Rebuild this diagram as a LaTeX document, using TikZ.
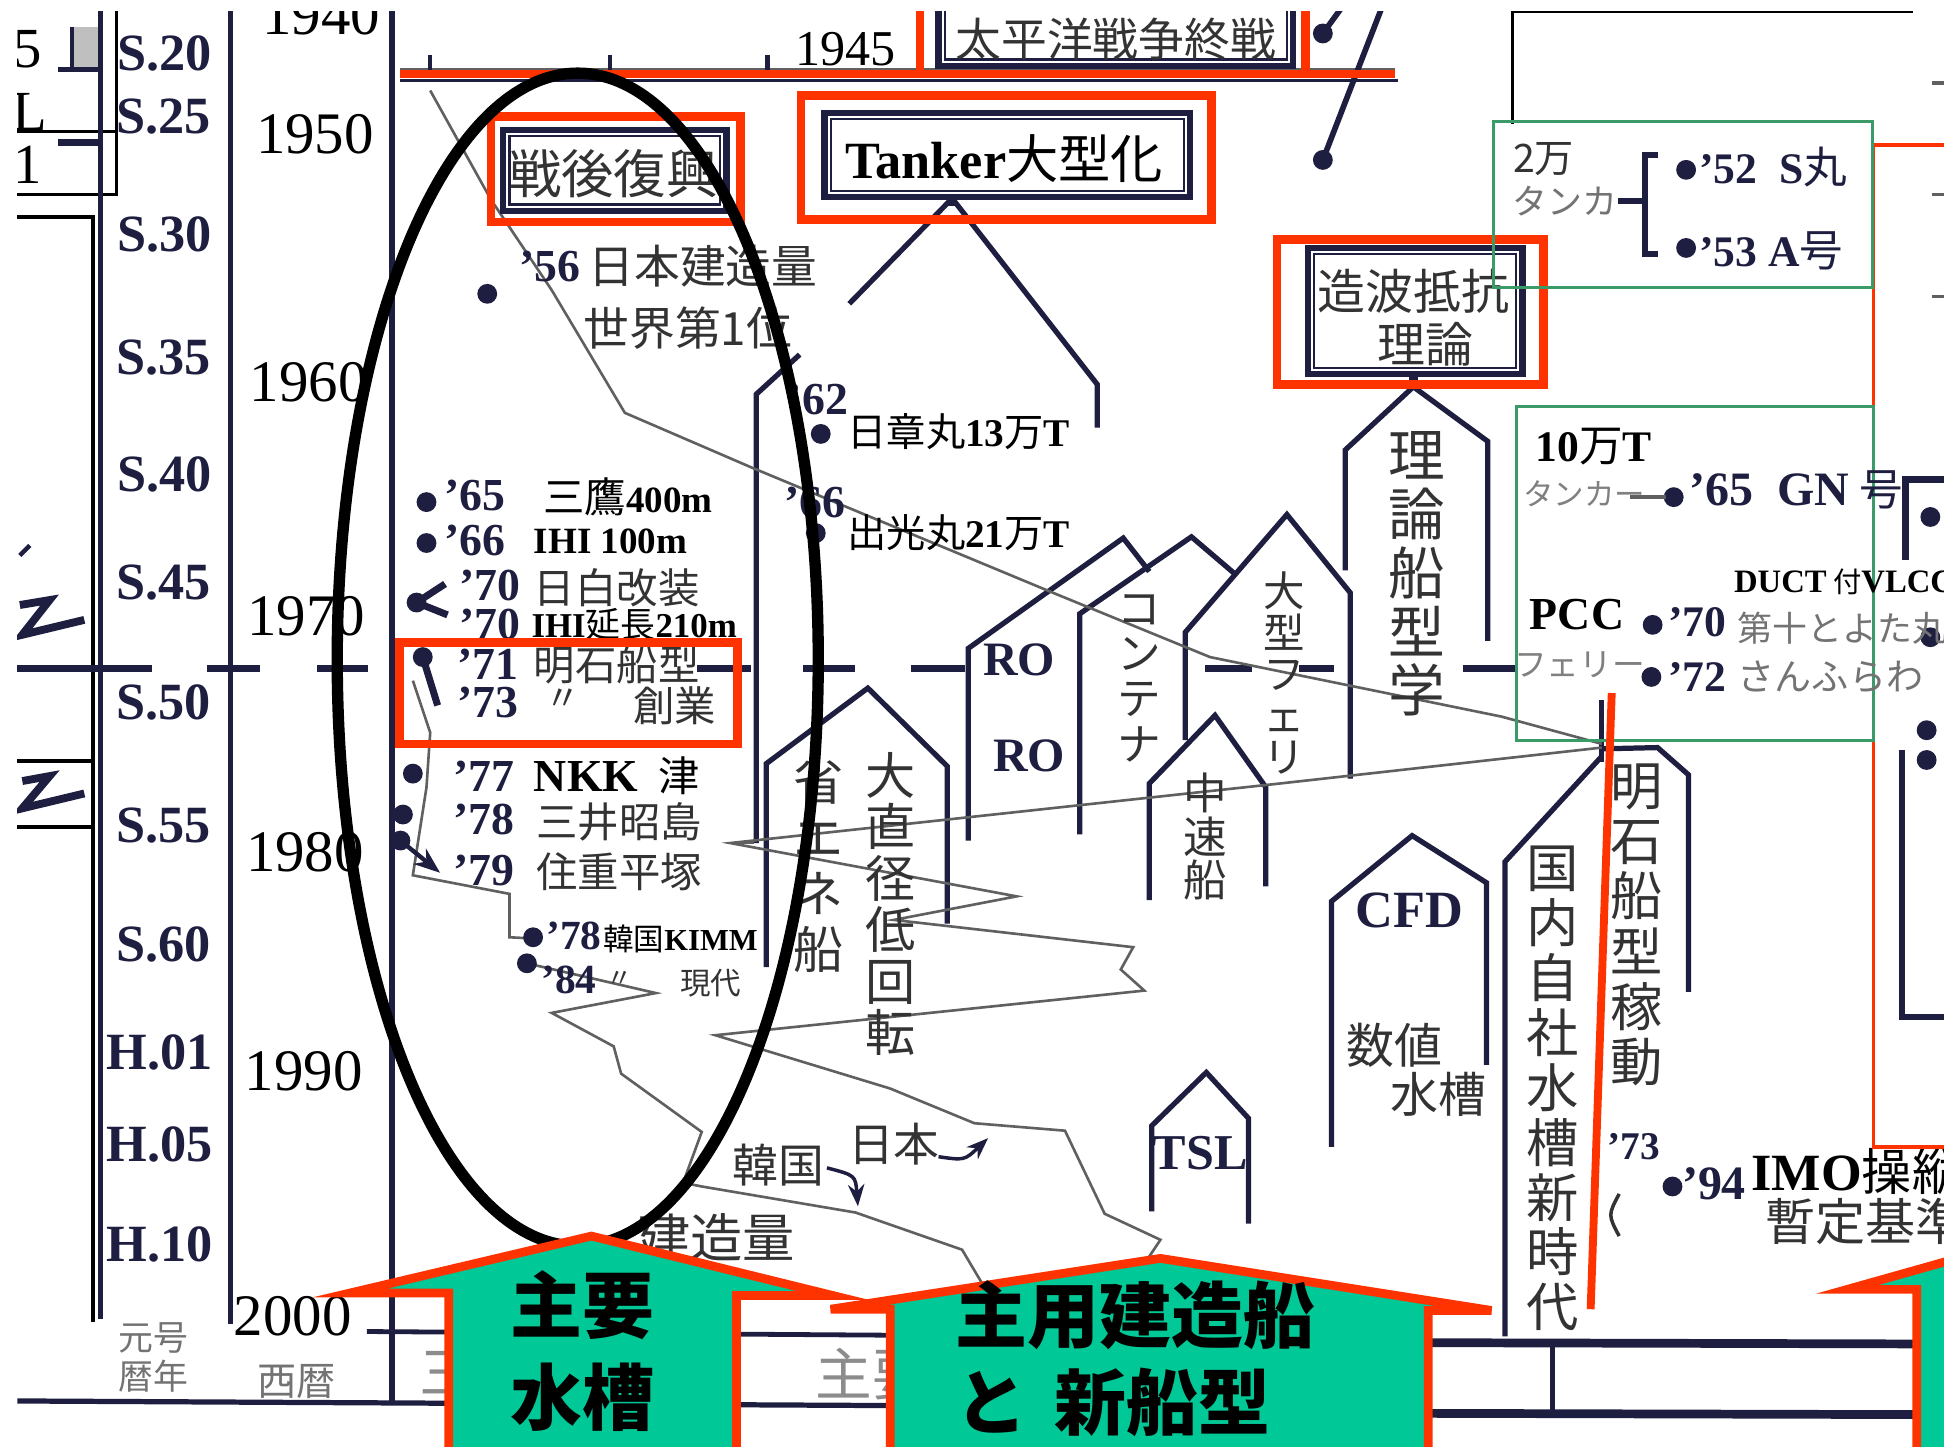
\documentclass[tikz,border=0pt]{standalone}
\usepackage{fontspec}
\setmainfont{Liberation Serif}
\newfontfamily\jp{Noto Sans CJK JP}
\usetikzlibrary{arrows.meta}
\definecolor{redf}{HTML}{FF3300}
\definecolor{tealf}{HTML}{00C896}
\definecolor{navy}{HTML}{1E1E40}
\definecolor{gline}{HTML}{606060}
\definecolor{gbox}{HTML}{3A9A68}
\definecolor{jtext}{HTML}{333333}
\newcommand{\myfs}[1]{\fontsize{#1}{#1}\selectfont}
\tikzset{
 wall/.style={navy, line width=1.2pt, line join=miter},
 thinl/.style={gline, line width=0.6pt},
 redframe/.style={redf, line width=2pt},
 txt/.style={inner sep=0pt, text=black},
 jt/.style={inner sep=0pt, text=jtext, font=\jp},
 sl/.style={inner sep=0pt, text=navy, font=\bfseries\myfs{12}},
 yr/.style={inner sep=0pt, text=black, font=\myfs{13.5}},
 num/.style={inner sep=0pt, anchor=west, text=navy, font=\bfseries\myfs{10.5}},
 vt/.style={inner sep=0pt, text=jtext, align=center},
 arrowshape/.style={fill=tealf, draw=redf, line width=2pt, line join=miter},
 atext/.style={inner sep=0pt, text=black, font=\jp\bfseries\myfs{16.5}},
}
\begin{document}
\begin{tikzpicture}[x=0.01cm,y=-0.01cm]
\useasboundingbox (0,0) rectangle (1568,1167);
\fill[white] (0,0) rectangle (1568,1167);

% ---------- left columns ----------
\draw[black,line width=0.8pt] (14,157)--(94,157)--(94,0);
\draw[black,line width=0.8pt] (14,106)--(94,106);
\fill[black!25] (58,22) rectangle (81,56);
\draw[navy,line width=1pt] (47,56)--(81,56) (58,22)--(58,56);
\draw[navy,line width=1.6pt] (47,115)--(81,115);
\node[txt,font=\myfs{13}] (p5) at (22,40) {5};
\node[txt,font=\myfs{13}] (pL) at (24,90) {L};
\node[txt,font=\myfs{13}] (p1) at (22,133) {1};
\draw[black,line width=0.8pt] (14,175)--(75,175)--(75,1066);
\draw[black,line width=0.8pt] (14,614)--(75,614) (14,667)--(75,667);
\draw[navy,line width=1.8pt] (16,488)--(40,484)--(18,512)--(68,500);
\draw[navy,line width=1.8pt] (18,630)--(40,626)--(18,652)--(68,640);
\draw[navy,line width=1pt] (16,448)--(24,440);
\draw[navy,line width=1.3pt] (81,0)--(81,1064);
\draw[navy,line width=1.3pt] (186,0)--(186,1068);
\draw[navy,line width=1.3pt] (316,0)--(316,1132);

\node[sl] (s20) at (133,43) {S.20};
\node[sl] (s25) at (132,94) {S.25};
\node[sl] (s30) at (133,189) {S.30};
\node[sl] (s35) at (132,288) {S.35};
\node[sl] (s40) at (133,383) {S.40};
\node[sl] (s45) at (132,470) {S.45};
\node[sl] (s50) at (132,567) {S.50};
\node[sl] (s55) at (132,666) {S.55};
\node[sl] (s60) at (132,762) {S.60};
\node[sl] (h01) at (129,849) {H.01};
\node[sl] (h05) at (129,923) {H.05};
\node[sl] (h10) at (129,1004) {H.10};

\node[yr] (y40) at (259,12) {1940};
\node[yr] (y50) at (254,108) {1950};
\node[yr] (y60) at (249,308) {1960};
\node[yr] (y70) at (247,497) {1970};
\node[yr] (y80) at (246,687) {1980};
\node[yr] (y90) at (245,864) {1990};
\node[yr] (y00) at (236,1062) {2000};
\node[jt,font=\jp\myfs{8},text=black!55] (gengo) at (124,1079) {元号};
\node[jt,font=\jp\myfs{8},text=black!55] (rekinen) at (124,1110) {暦年};
\node[jt,font=\jp\myfs{9},text=black!55] (seireki) at (239,1114) {西暦};

% dashed S.50 line
\foreach \a/\b in {14/123,167/210,256/297,562/606,648/690,735/778,972/1010,1048/1076,1180/1223}
  \draw[navy,line width=1.5pt] (\a,539)--(\b,539);

% bottom table
\draw[navy,line width=1.1pt] (296,1074)--(1150,1080);
\draw[navy,line width=2pt] (1150,1083)--(1544,1084);
\draw[navy,line width=1.2pt] (14,1130)--(1150,1136);
\draw[navy,line width=2pt] (1150,1140)--(1544,1141);
\draw[navy,line width=1.2pt] (1252,1083)--(1252,1140);
\node[jt,font=\jp\myfs{13},text=black!45,anchor=west] (tab1) at (338,1107) {三};
\node[jt,font=\jp\myfs{13},text=black!45,anchor=west] (tab2) at (657,1108) {主要};

% top axis
\draw[gline,line width=0.6pt] (323,56)--(1125,56);
\draw[navy,line width=0.8pt] (323,65)--(1128,65);
\foreach \x in {347,492,619} \draw[navy,line width=1pt] (\x,44)--(\x,58);
\node[txt,font=\myfs{11.5}] (y45) at (682,40) {1945};

% top right lines
\draw[navy,line width=1.3pt] (1067,129)--(1115,5);
\draw[navy,line width=1.3pt] (1067,27)--(1083,5);
\draw[black,line width=0.7pt] (1220,100)--(1220,9)--(1543,9);
\foreach \y in {67,157,239} \draw[gline,line width=0.8pt] (1558,\y)--(1568,\y);

% ---------- pentagons ----------
\draw[wall] (610,680)--(610,318)--(645,286);
\draw[wall] (685,245)--(768,160)--(885,310)--(885,345);
\draw[navy,line width=2pt] (768,157)--(768,166);
\draw[wall] (618,780)--(618,616)--(700,555)--(764,618)--(764,745);
\draw[wall] (781,678)--(781,523)--(906,434)--(927,461);
\draw[wall] (871,673)--(871,495)--(961,433)--(995,462);
\draw[wall] (956,597)--(956,510)--(1038,415)--(1089,478)--(1089,628);
\draw[wall] (927,726)--(927,632)--(980,577)--(1021,635)--(1021,715);
\draw[wall] (1085,460)--(1085,363)--(1140,312)--(1200,356)--(1200,517);
\draw[navy,line width=2pt] (1140,300)--(1140,313);
\draw[wall] (1074,925)--(1074,727)--(1139,674)--(1199,712)--(1199,859);
\draw[wall] (929,977)--(929,908)--(973,865)--(1007,902)--(1007,987);
\draw[wall] (1214,1078)--(1214,695)--(1292,610);
\draw[wall] (1292,565)--(1292,615);
\draw[wall] (1292,604)--(1337,603)--(1362,625)--(1362,800);

% ---------- grey curves ----------
\draw[thinl] (347,73)--(396,161)--(445,234)--(504,333)--(606,377)--(849,478)--(976,530)--(1211,578)--(1292,600);
\draw[thinl] (1292,603)--(1032,632)--(589,680)--(820,723)--(721,742)--(914,764)--(904,782)--(923,799)--(577,835)--(718,878)--(786,906)--(859,912)--(891,979)--(936,1000)--(926,1015)--(942,1040);
\draw[thinl] (333,549)--(347,591)--(344,635)--(333,706)--(411,721)--(411,756)--(430,757);
\draw[thinl] (425,777)--(529,801)--(445,817)--(495,844)--(501,866)--(566,913)--(551,954)--(566,957)--(690,978)--(776,1008)--(795,1040);
\draw[thinl] (589,680)--(608,680);
\draw[navy,line width=0.8pt,-{Stealth[length=5pt]}] (757,933) .. controls (778,936) .. (797,918);
\draw[navy,line width=0.8pt,-{Stealth[length=5pt]}] (667,942) .. controls (690,948) .. (692,973);

% ---------- dots ----------
\foreach \p in {(393,237),(662,350),(658,430),(344,405),(344,438),(336,486),(341,530),(333,624),(325,657),(323,678),(430,756),(425,777),(1067,27),(1067,129),(1360,137),(1360,200),(1350,401),(1333,504),(1332,546),(1557,514),(1557,417),(1554,589),(1554,613),(1349,957)}
  \fill[navy] \p circle[radius=8];
\draw[navy,line width=1.6pt] (359,471)--(336,486)--(361,496);
\draw[navy,line width=1.6pt] (341,530)--(353,569);
\draw[navy,line width=1pt,-{Stealth[length=6pt]}] (323,678)--(355,704);

% ---------- left list texts ----------
\node[num] (n56) at (418,215) {’56};
\node[jt,anchor=west,font=\jp\myfs{10.5}] (t56a) at (474,215) {日本建造量};
\node[jt,anchor=west,font=\jp\myfs{10.5}] (t56b) at (470,265) {世界第1位};
\node[num] (n62) at (634,322) {’62};
\node[txt,anchor=west,font=\bfseries\myfs{9}] (t62) at (683,348) {{\jp\mdseries 日章丸}13{\jp\mdseries 万}T};
\node[num] (n66b) at (632,405) {’66};
\node[txt,anchor=west,font=\bfseries\myfs{9}] (t66b) at (683,430) {{\jp\mdseries 出光丸}21{\jp\mdseries 万}T};

\node[num] (n65) at (358,400) {’65};
\node[txt,anchor=west,font=\bfseries\myfs{8.5}] (t65) at (430,401) {{\jp\mdseries\myfs{9.5} 三鷹}400m};
\node[num] (n66) at (358,436) {’66};
\node[txt,anchor=west,font=\bfseries\myfs{8.5}] (t66) at (430,437) {IHI 100m};
\node[num] (n70a) at (370,472) {’70};
\node[jt,anchor=west,font=\jp\myfs{9.5}] (t70a) at (430,474) {日白改装};
\node[num] (n70b) at (370,504) {’70};
\node[txt,anchor=west,font=\bfseries\myfs{8}] (t70b) at (428,504) {IHI{\jp\mdseries 延長}210m};
\node[num] (n71) at (368,536) {’71};
\node[jt,anchor=west,font=\jp\myfs{9.5}] (t71) at (430,536) {明石船型};
\node[num] (n73) at (368,567) {’73};
\node[jt,font=\jp\myfs{8}] (t73a) at (454,564) {〃};
\node[jt,anchor=west,font=\jp\myfs{9.5}] (t73b) at (510,569) {創業};
\node[num] (n77) at (365,626) {’77};
\node[txt,anchor=west,font=\bfseries\myfs{10.5}] (t77) at (430,626) {NKK {\jp\mdseries\myfs{9.5} 津}};
\node[num] (n78) at (365,661) {’78};
\node[jt,anchor=west,font=\jp\myfs{9.5}] (t78) at (432,663) {三井昭島};
\node[num] (n79) at (365,702) {’79};
\node[jt,anchor=west,font=\jp\myfs{9.5}] (t79) at (432,703) {住重平塚};
\node[num,font=\bfseries\myfs{9.5}] (n78k) at (440,755) {’78};
\node[txt,anchor=west,font=\bfseries\myfs{7}] (t78k) at (486,757) {{\jp\mdseries 韓国}KIMM};
\node[num,font=\bfseries\myfs{9.5}] (n84) at (436,790) {’84};
\node[jt,font=\jp\myfs{6}] (t84a) at (500,790) {〃};
\node[jt,anchor=west,font=\jp\myfs{7}] (t84b) at (548,793) {現代};

\node[jt,font=\jp\myfs{12}] (kenzo) at (578,998) {建造量};
\node[jt,font=\jp\myfs{10.5}] (kankoku) at (628,940) {韓国};
\node[jt,font=\jp\myfs{10.5}] (nihon) at (721,923) {日本};

% ---------- pentagon texts ----------
\node[vt,font=\jp\fontsize{13}{13.5}\selectfont] (rironsen) at (1143,463) {理\\論\\船\\型\\学};
\node[vt,font=\jp\fontsize{12}{12.7}\selectfont] (akashi) at (1320,746) {明\\石\\船\\型\\稼\\動};
\node[vt,font=\jp\fontsize{12}{12.6}\selectfont] (kokunai) at (1252,878) {国\\内\\自\\社\\水\\槽\\新\\時\\代};
\node[vt,font=\jp\fontsize{11.5}{12.8}\selectfont] (shoene) at (660,698) {省\\エ\\ネ\\船};
\node[vt,font=\jp\fontsize{11.5}{11.8}\selectfont] (daichok) at (718,729) {大\\直\\径\\低\\回\\転};
\node[vt,font=\jp\fontsize{10}{10.4}\selectfont] (kontena) at (919,547) {コ\\ン\\テ\\ナ};
\node[vt,font=\jp\fontsize{9.5}{9.5}\selectfont] (ferry) at (1036,543) {大\\型\\フ\\ェ\\リ};
\node[vt,font=\jp\fontsize{10}{10}\selectfont] (chusoku) at (972,675) {中\\速\\船};
\node[txt,font=\bfseries\myfs{11},text=navy] (ro1) at (822,532) {RO};
\node[txt,font=\bfseries\myfs{11},text=navy] (ro2) at (830,610) {RO};
\node[txt,font=\bfseries\myfs{12},text=navy] (cfd) at (1137,734) {CFD};
\node[jt,font=\jp\myfs{11}] (suchi) at (1125,843) {数値};
\node[jt,font=\jp\myfs{11}] (suiso) at (1160,883) {水槽};
\node[txt,font=\bfseries\myfs{11.5},text=navy] (tsl) at (968,930) {TSL};
\node[txt,font=\bfseries\myfs{9},text=navy] (n73r) at (1318,925) {’73};
\draw[jtext,line width=0.8pt] (1306,963) .. controls (1297,980) .. (1306,997);
\node[txt,anchor=west,font=\bfseries\myfs{11},text=navy] (n94) at (1356,955) {’94};
\node[txt,anchor=west,font=\bfseries\myfs{12}] (imo) at (1412,945) {IMO{\jp\mdseries\myfs{11.5}操縦}};
\node[jt,anchor=west,font=\jp\myfs{11.5}] (zantei) at (1423,985) {暫定基準};

% ---------- title boxes ----------
\draw[navy,line width=1.4pt] (757,-5) rectangle (1043,53);
\draw[navy,line width=0.5pt] (762,-5) rectangle (1038,48);
\node[jt,font=\jp\myfs{10.5}] (taiheiyo) at (900,32) {太平洋戦争終戦};
\draw[redframe] (742,-5)--(742,60) (1053,-5)--(1053,60);
\draw[redf,line width=1.8pt] (323,60)--(1125,60);

\draw[navy,line width=1.4pt] (406,105) rectangle (586,170);
\draw[navy,line width=0.5pt] (411,110) rectangle (581,165);
\node[jt,font=\jp\myfs{12}] (sengo) at (495,140) {戦後復興};
\draw[redframe] (396,94) rectangle (597,179);

\draw[navy,line width=1.4pt] (665,91) rectangle (960,159);
\draw[navy,line width=0.5pt] (670,96) rectangle (955,154);
\node[txt,font=\bfseries\myfs{12}] (tanker) at (810,128) {Tanker{\jp\mdseries\myfs{12}大型化}};
\draw[redframe] (646,77) rectangle (977,177);

\draw[navy,line width=1.4pt] (1055,200) rectangle (1228,302);
\draw[navy,line width=0.5pt] (1060,205) rectangle (1223,297);
\node[jt,font=\jp\myfs{11}] (zoha) at (1140,235) {造波抵抗};
\node[jt,font=\jp\myfs{11}] (riron) at (1150,278) {理論};
\draw[redframe] (1030,193) rectangle (1245,310);

\draw[redframe] (322,518) rectangle (595,600);

% ---------- right side ----------
\draw[redf,line width=0.8pt] (1568,117)--(1511,117)--(1511,925)--(1568,925);
\draw[gbox,line width=0.7pt] (1205,98) rectangle (1510,232);
\draw[gbox,line width=0.7pt] (1223,328) rectangle (1511,597);
\node[jt,font=\jp\myfs{9}] (niman) at (1245,128) {2万};
\node[jt,font=\jp\myfs{8},text=black!55] (tanka) at (1262,162) {タンカ};
\draw[navy,line width=1.4pt] (1305,162)--(1327,162);
\draw[navy,line width=1.4pt] (1337,125)--(1327,125)--(1327,205)--(1337,205);
\node[txt,anchor=west,font=\bfseries\myfs{10},text=navy] (s52) at (1370,135) {’52\ \ S{\jp\mdseries 丸}};
\node[txt,anchor=west,font=\bfseries\myfs{10},text=navy] (a53) at (1370,202) {’53 A{\jp\mdseries 号}};
\node[txt,anchor=west,font=\bfseries\myfs{10}] (juman) at (1238,360) {10{\jp\mdseries 万}T};
\node[jt,font=\jp\myfs{7},text=black!50] (tanka2) at (1278,398) {タンカー};
\draw[gline,line width=0.8pt] (1315,401)--(1344,401);
\node[txt,anchor=west,font=\bfseries\myfs{11},text=navy] (gn) at (1362,395) {’65\ \ GN{\jp\mdseries\myfs{10} 号}};
\node[txt,anchor=west,font=\bfseries\myfs{7.5}] (duct) at (1398,469) {DUCT{\jp\mdseries\myfs{6.5} 付}VLCC};
\node[txt,font=\bfseries\myfs{10.5}] (pcc) at (1272,496) {PCC};
\node[num,font=\bfseries\myfs{10}] (n70r) at (1345,502) {’70};
\node[jt,anchor=west,font=\jp\myfs{8},text=black!55] (toyota) at (1401,507) {第十とよた丸};
\node[jt,font=\jp\myfs{7.5},text=black!50] (ferry2) at (1274,536) {フェリー};
\node[num,font=\bfseries\myfs{10}] (n72r) at (1345,546) {’72};
\node[jt,anchor=west,font=\jp\myfs{8.5},text=black!55] (sunflower) at (1401,546) {さんふらわ};
\draw[navy,line width=1.6pt] (1568,387)--(1537,387)--(1537,452);
\draw[navy,line width=1.4pt] (1534,605)--(1534,820)--(1568,820);

\draw[redf,line width=1.8pt] (1300,559)--(1283,1056);

% ---------- ellipse ----------
\draw[black,line width=2.6pt] (466,532) ellipse [x radius=194, y radius=473];

% ---------- arrows ----------
\draw[arrowshape] (282,1043)--(477,997)--(672,1045)--(594,1045)--(594,1180)--(362,1180)--(362,1043)--cycle;
\node[atext] (shuyo) at (470,1053) {主要};
\node[atext] (suiso2) at (470,1127) {水槽};
\draw[arrowshape] (670,1056)--(936,1015)--(1203,1057)--(1152,1057)--(1152,1180)--(718,1180)--(718,1056)--cycle;
\node[atext,anchor=west] (shuyou) at (770,1061) {主用建造船};
\node[atext,anchor=west] (to) at (770,1131) {と};
\node[atext,anchor=west] (shinsen) at (850,1131) {新船型};
\draw[arrowshape] (1490,1040)--(1600,1009)--(1600,1180)--(1546,1180)--(1546,1040)--cycle;

% margins
\fill[white] (0,0) rectangle (1568,9);
\fill[white] (0,0) rectangle (14,1167);
\end{tikzpicture}
\end{document}
